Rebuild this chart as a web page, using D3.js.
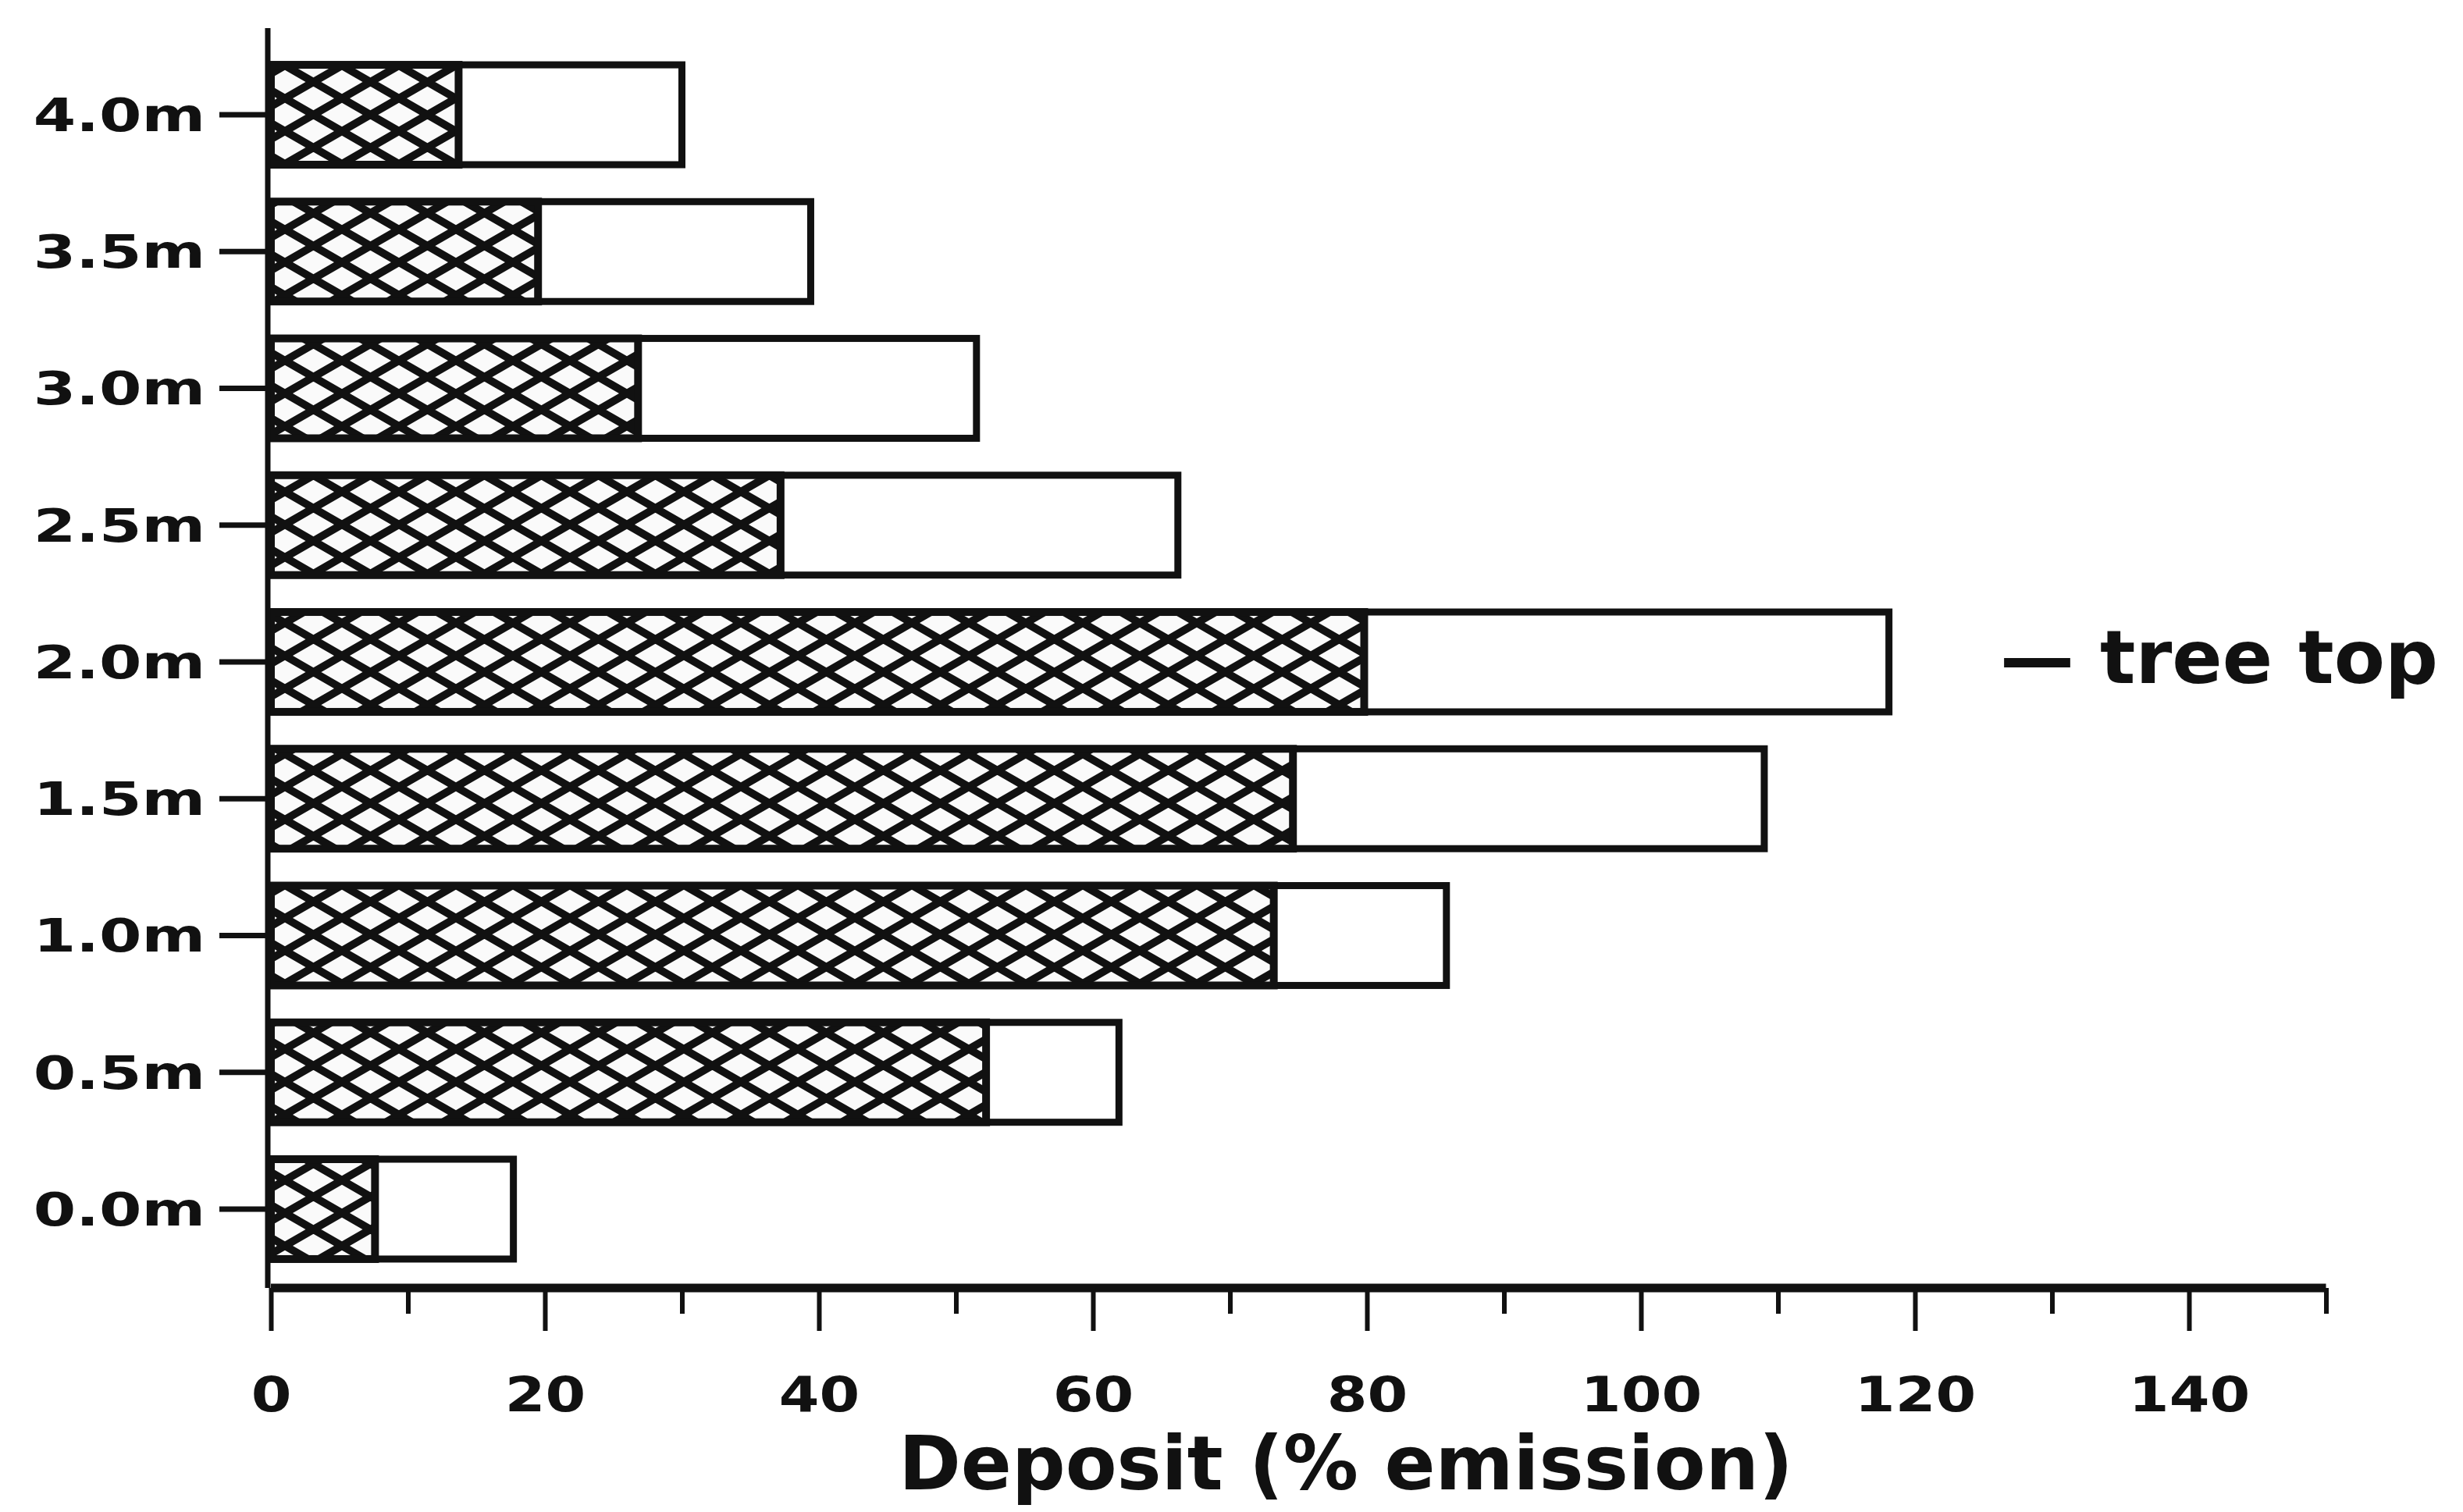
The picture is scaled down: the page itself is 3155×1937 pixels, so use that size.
<!DOCTYPE html>
<html>
<head>
<meta charset="utf-8">
<script src="https://cdn.jsdelivr.net/npm/d3@7"></script>
<style>
  html, body { margin: 0; padding: 0; background: #ffffff; }
  svg { display: block; }
  text { font-family: "DejaVu Sans", sans-serif; font-weight: bold; fill: #111; }
</style>
</head>
<body>
<svg id="chart" width="3155" height="1937"></svg>
<script>
// ---- data ----
const categories = ["4.0m", "3.5m", "3.0m", "2.5m", "2.0m", "1.5m", "1.0m", "0.5m", "0.0m"];
const hatchedValues = [13.7, 19.5, 26.8, 37.2, 79.8, 74.6, 73.2, 52.2, 7.6];
const totalValues = [30.0, 39.4, 51.5, 66.2, 118.1, 109.0, 85.8, 61.9, 17.7];
const xMajorTicks = [0, 20, 40, 60, 80, 100, 120, 140];
const xMinorTicks = [10, 30, 50, 70, 90, 110, 130, 150];
const xTitle = "Deposit (% emission)";
const annotationText = "\u2014 tree top";
const annotationCategory = "2.0m";

// ---- layout ----
const W = 3155, H = 1937;
const axisY = 1650;
const x = d3.scaleLinear().domain([0, 150]).range([347, 347 + 150 * 17.55]);
const y = d3.scaleBand().domain(categories).range([59.4, 1636.6]).paddingInner(0.27).paddingOuter(0.135);

const svg = d3.select("#chart");
svg.append("rect").attr("width", W).attr("height", H).attr("fill", "#fff");

// cross-hatch pattern
const pw = 73, ph = 42;
const defs = svg.append("defs");
const pat = defs.append("pattern").attr("id", "hatch")
  .attr("patternUnits", "userSpaceOnUse")
  .attr("width", pw).attr("height", ph);
pat.append("rect").attr("width", pw).attr("height", ph).attr("fill", "#fafafa");
let d = "";
[-pw, 0, pw].forEach(c => {
  d += `M${c - pw},${-ph} L${c + 2 * pw},${2 * ph} `;
  d += `M${c - pw},${2 * ph} L${c + 2 * pw},${-ph} `;
});
pat.append("path").attr("d", d).attr("stroke", "#111").attr("stroke-width", 10).attr("fill", "none");

const rows = categories.map((c, i) => ({ cat: c, hatched: hatchedValues[i], total: totalValues[i] }));

// outer (white) bars
svg.append("g").selectAll("rect").data(rows).join("rect")
  .attr("x", x(0))
  .attr("y", r => y(r.cat))
  .attr("width", r => x(r.total) - x(0))
  .attr("height", y.bandwidth())
  .attr("fill", "#fff")
  .attr("stroke", "#111")
  .attr("stroke-width", 9);

// hatched bars
svg.append("g").selectAll("rect").data(rows).join("rect")
  .attr("x", x(0))
  .attr("y", r => y(r.cat))
  .attr("width", r => x(r.hatched) - x(0))
  .attr("height", y.bandwidth())
  .attr("fill", "url(#hatch)")
  .attr("stroke", "#111")
  .attr("stroke-width", 10);

// x axis: minor ticks
const gMinor = svg.append("g").attr("transform", `translate(0,${axisY})`)
  .call(d3.axisBottom(x).tickValues(xMinorTicks).tickSize(33).tickSizeOuter(0).tickFormat(""));
gMinor.select(".domain").remove();
gMinor.selectAll(".tick line").attr("stroke", "#111").attr("stroke-width", 6);

// x axis: major ticks + labels
const labelScaleX = 1.2;
const gMajor = svg.append("g").attr("transform", `translate(0,${axisY})`)
  .call(d3.axisBottom(x).tickValues(xMajorTicks).tickSize(55).tickSizeOuter(0).tickPadding(0).tickFormat(d3.format("d")));
gMajor.select(".domain").attr("d", `M${x(0)},0H${x(150)}`).attr("stroke", "#111").attr("stroke-width", 11);
gMajor.selectAll(".tick line").attr("stroke", "#111").attr("stroke-width", 6);
gMajor.selectAll(".tick text")
  .attr("y", 0).attr("dy", 0)
  .attr("transform", `translate(0,158) scale(${labelScaleX},1)`)
  .style("font-size", "62px").style("font-family", "DejaVu Sans").style("font-weight", "bold")
  .attr("fill", "#111");

// y axis
const yLabelScaleX = 1.35;
const gY = svg.append("g").attr("transform", `translate(${x(0) - 4},0)`)
  .call(d3.axisLeft(y).tickSize(62).tickSizeOuter(0).tickPadding(0));
gY.select(".domain").attr("d", `M0,36V${axisY}`).attr("stroke", "#111").attr("stroke-width", 7);
gY.selectAll(".tick line").attr("stroke", "#111").attr("stroke-width", 7);
gY.selectAll(".tick text")
  .attr("x", -80 / yLabelScaleX).attr("dy", "0.36em")
  .attr("transform", `scale(${yLabelScaleX},1)`)
  .style("font-size", "58px").style("font-family", "DejaVu Sans").style("font-weight", "bold")
  .attr("fill", "#111");

// axis title
svg.append("text")
  .attr("x", 1724).attr("y", 1908)
  .attr("text-anchor", "middle")
  .style("font-size", "96px")
  .text(xTitle);

// tree top annotation
svg.append("text")
  .attr("x", 2562).attr("y", y(annotationCategory) + y.bandwidth() / 2 + 27)
  .attr("text-anchor", "start")
  .style("font-size", "95px")
  .text(annotationText);
</script>
</body>
</html>
